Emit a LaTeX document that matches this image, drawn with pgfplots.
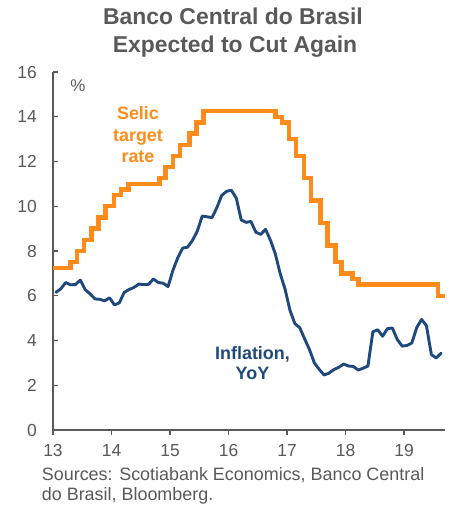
\documentclass[border=0pt]{standalone}
\usepackage{fontspec}
\setmainfont{Liberation Sans}
\usepackage{pgfplots}
\pgfplotsset{compat=1.18}
\definecolor{selic}{HTML}{FF8C1A}
\definecolor{infl}{HTML}{1F497D}
\definecolor{txtgray}{HTML}{595959}
\definecolor{titlegray}{HTML}{595959}
\begin{document}
\begin{tikzpicture}
\path[use as bounding box] (-53bp,-76bp) rectangle (398bp,430bp);
\begin{axis}[
  at={(0,0)}, anchor=south west,
  scale only axis, width=392bp, height=358bp,
  xmin=13, xmax=19.7, ymin=0, ymax=16,
  xtick={13,14,...,19}, ytick={0,2,...,16},
  axis lines=left,
  axis line style={-, draw=txtgray, line width=1.3bp},
  tick style={draw=txtgray, line width=1.1bp},
  major tick length=5bp,
  xtick align=outside, ytick align=inside,
  /pgf/number format/assume math mode=true,
  ticklabel style={font=\fontsize{17.5}{20}\selectfont, text=txtgray},
  xticklabel style={anchor=north, inner sep=0pt, yshift=-9.5bp},
  yticklabel style={anchor=east, inner sep=0pt, xshift=-16bp},
  clip=false,
]
\addplot[const plot, selic, line width=4.4bp] coordinates {
(13.00,7.25) (13.30,7.50) (13.41,8.00) (13.53,8.50) (13.66,9.00) (13.78,9.50)
(13.90,10.00) (14.04,10.50) (14.16,10.75) (14.29,11.00) (14.82,11.25) (14.92,11.75)
(15.05,12.25) (15.17,12.75) (15.33,13.25) (15.45,13.75) (15.57,14.25) (16.80,14.00)
(16.91,13.75) (17.03,13.00) (17.15,12.25) (17.29,11.25) (17.41,10.25) (17.57,9.25)
(17.69,8.25) (17.83,7.50) (17.93,7.00) (18.12,6.75) (18.22,6.50) (19.58,6.00) (19.70,6.00)
};
\addplot[infl, line width=2.9bp, line join=round, line cap=round] coordinates {
(13.050,6.15) (13.133,6.31) (13.217,6.59) (13.300,6.49) (13.383,6.50) (13.467,6.70)
(13.550,6.27) (13.633,6.09) (13.717,5.86) (13.800,5.84) (13.883,5.77) (13.967,5.91)
(14.050,5.59) (14.133,5.68) (14.217,6.15) (14.300,6.28) (14.383,6.37) (14.467,6.52)
(14.550,6.50) (14.633,6.51) (14.717,6.75) (14.800,6.59) (14.883,6.56) (14.967,6.41)
(15.050,7.14) (15.133,7.70) (15.217,8.13) (15.300,8.17) (15.383,8.47) (15.467,8.89)
(15.550,9.56) (15.633,9.53) (15.717,9.49) (15.800,9.93) (15.883,10.48) (15.967,10.67)
(16.050,10.71) (16.133,10.36) (16.217,9.39) (16.300,9.28) (16.383,9.32) (16.467,8.84)
(16.550,8.74) (16.633,8.97) (16.717,8.48) (16.800,7.87) (16.883,6.99) (16.967,6.29)
(17.050,5.35) (17.133,4.76) (17.217,4.57) (17.300,4.08) (17.383,3.60) (17.467,3.00)
(17.550,2.71) (17.633,2.46) (17.717,2.54) (17.800,2.70) (17.883,2.80) (17.967,2.95)
(18.050,2.86) (18.133,2.84) (18.217,2.68) (18.300,2.76) (18.383,2.86) (18.467,4.39)
(18.550,4.48) (18.633,4.19) (18.717,4.53) (18.800,4.56) (18.883,4.05) (18.967,3.75)
(19.050,3.78) (19.133,3.89) (19.217,4.58) (19.300,4.94) (19.383,4.66) (19.467,3.37)
(19.550,3.22) (19.633,3.43)
};
\end{axis}
% titles and labels
\node[anchor=base, text=titlegray, font=\fontsize{23}{27}\selectfont\bfseries] at (180bp,405bp) {Banco Central do Brasil};
\node[anchor=base, text=titlegray, font=\fontsize{23}{27}\selectfont\bfseries] at (182bp,377bp) {Expected to Cut Again};
\node[anchor=base, text=txtgray, font=\fontsize{17}{20}\selectfont] at (25bp,338bp) {\%};
\node[anchor=base, text=selic, font=\fontsize{18}{21}\selectfont\bfseries] at (85bp,310bp) {Selic};
\node[anchor=base, text=selic, font=\fontsize{18}{21}\selectfont\bfseries] at (85bp,288bp) {target};
\node[anchor=base, text=selic, font=\fontsize{18}{21}\selectfont\bfseries] at (85bp,267bp) {rate};
\node[anchor=base, text=infl, font=\fontsize{18}{21}\selectfont\bfseries] at (199.5bp,70bp) {Inflation,};
\node[anchor=base, text=infl, font=\fontsize{18}{21}\selectfont\bfseries] at (199.5bp,50bp) {YoY};
\node[anchor=base west, inner sep=0pt, text=txtgray, font=\fontsize{18}{20}\selectfont] at (-11.3bp,-50.7bp) {Sources: Scotiabank Economics, Banco Central};
\node[anchor=base west, inner sep=0pt, text=txtgray, font=\fontsize{18}{20}\selectfont] at (-11.3bp,-70bp) {do Brasil, Bloomberg.};
\end{tikzpicture}
\end{document}
